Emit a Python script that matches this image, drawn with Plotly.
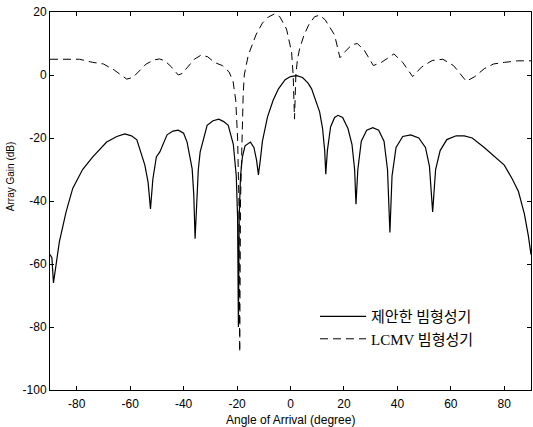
import plotly.graph_objects as go

# Proposed beamformer (solid)
prop_angle = [-90, -89.3, -88.7, -87.8, -86.5, -84, -81.5, -77.8, -74, -68.8, -65, -62, -59.5, -57.5,
              -54.5, -53.3, -52.4, -51.5, -50.2, -48.9, -46.2, -44, -42, -40, -38.7, -36.8, -36.2, -35.7,
              -35.1, -34.5, -33.8, -31.2, -29, -26.8, -25, -23.3, -21.4, -20.3, -19.8, -19.5, -19.2, -18.7,
              -18, -17, -15, -13.7, -12.7, -12, -11.3, -10.5, -8.6, -6.5, -4.5, -2, 0, 2.3, 4.5, 6.5, 7.9,
              9.5, 10.9, 12, 12.8, 13.2, 13.8, 15, 16.5, 17.8, 19.5, 21.5, 23, 24, 24.5, 25.2, 26.5, 28.5,
              30.8, 33, 35, 36.3, 37.2, 38, 39.5, 42, 45, 48, 50.5, 52, 53.2, 54.3, 56, 58.5, 62, 65, 68,
              72.5, 76, 80, 83, 85.3, 87.5, 89, 90]
prop_gain = [-57, -58, -66, -60, -53, -43.5, -36, -30, -26, -21.3, -19.5, -18.7, -19.3, -20.6,
             -28.6, -34, -42.5, -33, -26, -24.4, -19, -17.8, -17.5, -18.5, -21.3, -29.8, -38, -52,
             -38, -30, -24.4, -16, -14.5, -14, -14.8, -16, -22, -32, -45, -80, -45, -32,
             -26, -22.5, -21.3, -23, -27, -31.7, -27, -21, -13.3, -8, -4.4, -1.5, -0.5, -0.2, -0.8, -2.5, -4.4,
             -8, -11.7, -17, -24, -31.5, -24, -16.5, -13.5, -12.8, -13.5, -17, -22, -30, -41, -30, -21, -17.5,
             -16.7, -17.5, -21, -30, -50, -32, -23, -19.5, -19, -20, -23, -29, -43.5, -30, -24, -20.5, -19.3, -19.3, -20,
             -23, -25.5, -28.6, -33, -37, -44, -51, -57]

# LCMV beamformer (dashed)
lcmv_angle = [-90, -85, -79, -74, -70, -66, -63.5, -61.3, -59, -57, -54, -51, -49, -47, -44.5, -42,
              -40.5, -38.5, -36, -33.5, -31, -28.5, -25.5, -23, -21.5, -20.5, -19.8, -19.3, -19, -18.7,
              -18.2, -17.7, -17.3, -15.8, -12.8, -10.5, -8.3, -6, -4, -1.5, 0.4, 1, 1.5, 2, 2.6, 3.4, 5,
              6.8, 9, 10.9, 13, 16.5, 18.5, 20.5, 23, 25, 27.5, 31, 34, 38.7, 42, 45.7, 49, 53, 57, 61,
              65.8, 69, 72.5, 76, 80, 85, 90]
lcmv_gain = [5, 5.1, 5, 4, 3.5, 1.6, 0, -1.3, -0.8, 1, 3.5, 4.8, 5.1, 4.5, 2.5, 0,
             0.5, 2.5, 5, 6.3, 5.8, 4, 3, 1, -2, -8, -20, -40, -88, -40,
             -18, -6, 0, 6.3, 13, 16.5, 18.4, 19.4, 18.5, 14.6, 7.3, 0, -14, 0, 5, 8.3, 12.5,
             15.9, 18.5, 19, 17.5, 12.7, 5.5, 7.5, 9.6, 10, 8, 3, 4, 6.7, 4, -0.5, 2.5, 4.6, 5, 3,
             -2, -0.5, 2, 3.5, 4, 4.5, 4.5]

x_ticks = [-80, -60, -40, -20, 0, 20, 40, 60, 80]
x_tick_labels = ["-80", "-60", "-40", "-20", "0", "20", "40", "60", "80"]
y_ticks = [20, 0, -20, -40, -60, -80, -100]
y_tick_labels = ["20", "0", "-20", "-40", "-60", "-80", "-100"]

fig = go.Figure()
fig.add_trace(go.Scatter(x=prop_angle, y=prop_gain, mode="lines", name="제안한 빔형성기",
                         line=dict(color="black", width=1.2)))
fig.add_trace(go.Scatter(x=lcmv_angle, y=lcmv_gain, mode="lines", name="LCMV 빔형성기",
                         line=dict(color="black", width=1, dash="8px,5px")))

axis_common = dict(showline=True, linecolor="black", linewidth=1, mirror="ticks",
                   ticks="inside", ticklen=4, tickcolor="black", showgrid=False, zeroline=False,
                   tickfont=dict(family="Liberation Sans, Arial", size=12, color="black"))

fig.update_xaxes(range=[-90, 90], tickvals=x_ticks, ticktext=x_tick_labels,
                 ticklabelstandoff=3, **axis_common)
fig.update_yaxes(range=[-100, 20], tickvals=y_ticks, ticktext=y_tick_labels, **axis_common)

fig.update_layout(
    width=533, height=427,
    margin=dict(l=50, r=2, t=12, b=37),
    plot_bgcolor="white", paper_bgcolor="white",
    showlegend=True,
    legend=dict(x=0.551, y=0.238, xanchor="left", yanchor="top", bgcolor="rgba(0,0,0,0)",
                font=dict(family="Liberation Serif, Noto Sans CJK KR", size=15, color="black"),
                tracegroupgap=0, itemwidth=46),
    annotations=[
        dict(text="Angle of Arrival (degree)", xref="paper", yref="paper", x=0.5, y=0,
             xanchor="center", yanchor="top", yshift=-21, showarrow=False,
             font=dict(family="Liberation Sans, Arial", size=12, color="black")),
        dict(text="Array Gain (dB)", xref="paper", yref="paper", x=0, y=0.563,
             xanchor="center", yanchor="middle", xshift=-40, textangle=-90, showarrow=False,
             font=dict(family="Liberation Sans, Arial", size=10, color="black")),
    ],
)

fig.write_html("out.html", config={"displayModeBar": False},
               post_script="document.body.style.margin='0px';document.body.style.overflow='hidden';")
